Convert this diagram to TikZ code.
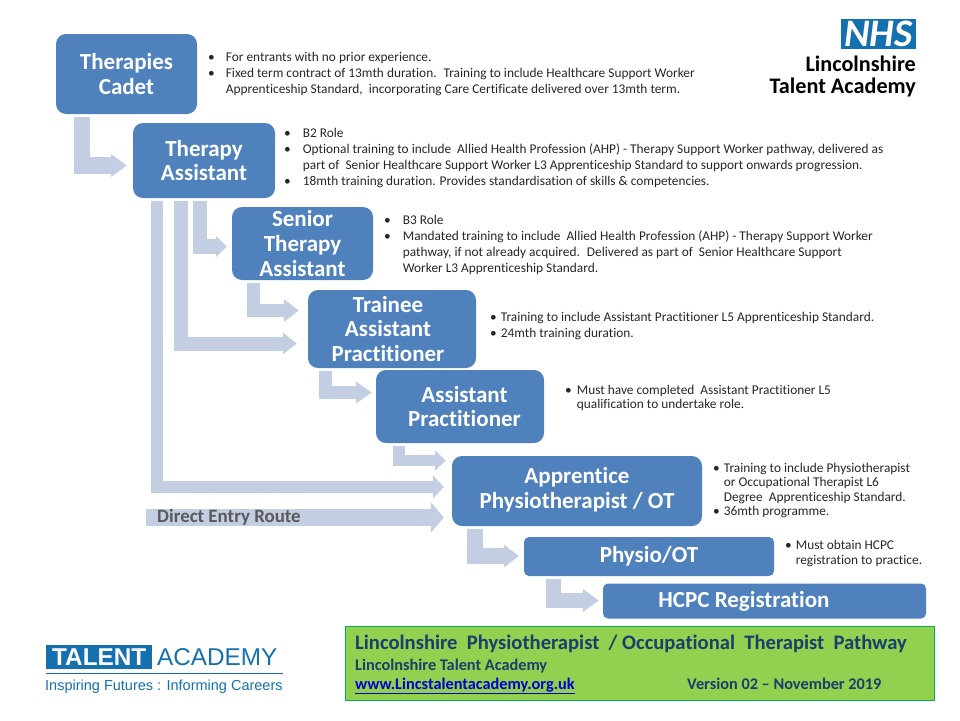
\documentclass[tikz,border=0pt]{standalone}
\usepackage{fontspec}
\setmainfont{Carlito}[Ligatures={NoCommon}]
\newfontfamily\logofont{Liberation Sans}
\usetikzlibrary{arrows.meta}
\definecolor{stageblue}{HTML}{4F81BD}
\definecolor{routeblue}{HTML}{C3CEE3}
\definecolor{titlenavy}{HTML}{17406D}
\definecolor{logoblue}{HTML}{1470AF}
\newcommand{\bulletlist}[2]{\begin{tabular}{@{}l@{\hspace{#1pt}}l@{}}#2\end{tabular}}
\tikzset{
  stage/.style = {shape=rectangle, rounded corners=10pt, fill=stageblue, text=white,
                  align=center, inner sep=0pt, font=\fontsize{23}{24.7}\selectfont\bfseries},
  slim/.style  = {stage, rounded corners=5pt},
  notes/.style = {anchor=west, inner sep=0pt, text=black!85, font=\fontsize{13.35}{16}\selectfont},
  tight/.style = {notes, font=\fontsize{13.35}{14.6}\selectfont},
  route/.style n args = {3}{draw=routeblue, line width=#1pt,
                  -{Triangle[width=#2pt,length=#3pt]}},
  banner/.style = {anchor=west, inner sep=0pt, text=titlenavy, font=\bfseries\fontsize{16.3}{17}\selectfont}
}
\begin{document}
\begin{tikzpicture}[x=1pt, y=-1pt]
  \useasboundingbox (0,0) rectangle (960,720);

  % stages
  \node[stage, minimum width=141pt, minimum height=80pt] (cadet) at (126.5,74) {Therapies \\ Cadet};
  \node[stage, minimum width=142pt, minimum height=75pt] (assistant) at (204,160.5) {Therapy \\ Assistant};
  \node[stage, minimum width=141pt, minimum height=73pt] (senior) at (302.5,243.5) {Senior \\ Therapy \\ Assistant};
  \node[stage, minimum width=168pt, minimum height=78pt] (trainee) at (392,329) {Trainee\hspace*{8pt} \\ Assistant\hspace*{8pt} \\ Practitioner\hspace*{8pt}};
  \node[stage, minimum width=168pt, minimum height=73pt] (practitioner) at (460,406.5) {\hspace*{9pt}Assistant \\ \hspace*{9pt}Practitioner};
  \node[stage, minimum width=250pt, minimum height=70pt] (apprentice) at (577,491) {\raisebox{6pt}{Apprentice} \\ \raisebox{6pt}{Physiotherapist / OT}};
  \node[slim, minimum width=250pt, minimum height=39pt] (physio) at (649,556.5) {Physio/OT};
  \node[slim, minimum width=323pt, minimum height=35pt] (hcpc) at (764.5,601) {\raisebox{-4pt}{HCPC Registration}\hspace*{41pt}};

  % routes
  \draw[route={16.5}{22}{16}] ([shift={(26,3)}]cadet.south west) |- ([shift={(-6,5)}]assistant.west);
  \draw[route={14.5}{21}{11}] ([shift={(67,3)}]assistant.south west) |- ([shift={(-5,3)}]senior.west);
  \draw[route={14}{21}{14}] ([shift={(48,3)}]assistant.south west) |- ([shift={(-11,14.5)}]trainee.west);
  \draw[route={12}{23}{11}] ([shift={(24,3)}]assistant.south west) |- ([shift={(-8,-4)}]apprentice.west);
  \draw[route={13}{22}{15}] ([shift={(21.5,3)}]senior.south west) |- ([shift={(-9,-18.5)}]trainee.west);
  \draw[route={13}{21}{16}] ([shift={(17.5,3)}]trainee.south west) |- ([shift={(-4,-14)}]practitioner.west);
  \draw[route={11.5}{20}{11}] ([shift={(23,3)}]practitioner.south west) |- ([shift={(-6,-30.5)}]apprentice.west);
  \draw[route={16}{22}{15}] ([shift={(23,3)}]apprentice.south west) |- ([shift={(-5,-0.5)}]physio.west);
  \draw[route={15}{22}{16}] ([shift={(30,3)}]physio.south west) |- ([shift={(-4,-0.5)}]hcpc.west);

  % direct entry
  \coordinate (entry) at (146,517.5);
  \draw[route={17}{30}{13}] (entry) -- ([shift={(-8,26.5)}]apprentice.west);
  \node[anchor=west, inner sep=0pt, text=black!65, font=\bfseries\fontsize{18.9}{20}\selectfont] (direct) at (157,517) {Direct Entry Route};

  % notes
  \node[notes] (cadetnotes) at (208,74) {\bulletlist{11}{
    • & For entrants with no prior experience. \\
    • & Fixed term contract of 13mth duration.~ Training to include Healthcare Support Worker \\
      & Apprenticeship Standard,~ incorporating Care Certificate delivered over 13mth term.}};
  \node[notes] (assistantnotes) at (284,158) {\bulletlist{12}{
    • & B2 Role \\
    • & Optional training to include~ Allied Health Profession (AHP) - Therapy Support Worker pathway, delivered as \\
      & part of~ Senior Healthcare Support Worker L3 Apprenticeship Standard to support onwards progression. \\
    • & 18mth training duration. Provides standardisation of skills \& competencies.}};
  \node[notes] (seniornotes) at (384,245) {\bulletlist{12}{
    • & B3 Role \\
    • & Mandated training to include~ Allied Health Profession (AHP) - Therapy Support Worker \\
      & pathway, if not already acquired.~ Delivered as part of~ Senior Healthcare Support \\
      & Worker L3 Apprenticeship Standard.}};
  \node[notes] (traineenotes) at (490,326.5) {\bulletlist{4}{
    • & Training to include Assistant Practitioner L5 Apprenticeship Standard. \\
    • & 24mth training duration.}};
  \node[tight] (practitionernotes) at (565,398.5) {\bulletlist{5}{
    • & Must have completed~ Assistant Practitioner L5 \\
      & qualification to undertake role.}};
  \node[tight] (apprenticenotes) at (713,491) {\bulletlist{4}{
    • & Training to include Physiotherapist \\
      & or Occupational Therapist L6 \\
      & Degree~ Apprenticeship Standard. \\
    • & 36mth programme.}};
  \node[tight] (physionotes) at (785,554) {\bulletlist{4}{
    • & Must obtain HCPC \\
      & registration to practice.}};

  % NHS logo
  \node[fill=logoblue, text=white, inner sep=0pt, minimum width=75pt, minimum height=30pt,
        font=\bfseries\itshape\fontsize{39}{39}\selectfont] (nhs) at (878.5,34) {\raisebox{-0.5pt}{NHS}};
  \node[anchor=north east, inner sep=0pt, align=right, text=black,
        font=\fontsize{22.2}{22}\selectfont\bfseries] (academy) at (916,56) {Lincolnshire \\ Talent Academy};

  % talent academy logo
  \node[anchor=north west, fill=logoblue, text=white, inner sep=0pt, minimum width=106pt, minimum height=24pt,
        font=\logofont\bfseries\fontsize{24.3}{24}\selectfont] (talent) at (46,645) {TALENT};
  \node[anchor=west, inner sep=0pt, text=logoblue, font=\logofont\fontsize{24.3}{24}\selectfont] (academyword) at (157,657) {ACADEMY};
  \node[anchor=north west, inner sep=0pt, text=logoblue, font=\logofont\fontsize{14.5}{16}\selectfont] (motto) at (45,680) {Inspiring Futures : Informing Careers};
  \draw[logoblue, line width=1pt] (talent.south west |- 0,673.5) -- (motto.north east |- 0,673.5);

  % pathway banner
  \node[anchor=north west, draw={rgb,255:red,0;green,176;blue,80}, fill={rgb,255:red,146;green,208;blue,80},
        line width=0.8pt, inner sep=0pt, minimum width=589pt, minimum height=74pt] (panel) at (345,626) {};
  \node[banner, font=\bfseries\fontsize{20.6}{22}\selectfont] (pathway) at (355,644) {Lincolnshire~ Physiotherapist~ / Occupational~ Therapist~ Pathway};
  \node[banner] (academyline) at (355,666) {Lincolnshire Talent Academy};
  \node[banner, text=blue!80!black] (website) at (355,686) {\underline{www.Lincstalentacademy.org.uk}};
  \node[banner] (version) at (687,684) {Version 02 – November 2019};
\end{tikzpicture}
\end{document}
